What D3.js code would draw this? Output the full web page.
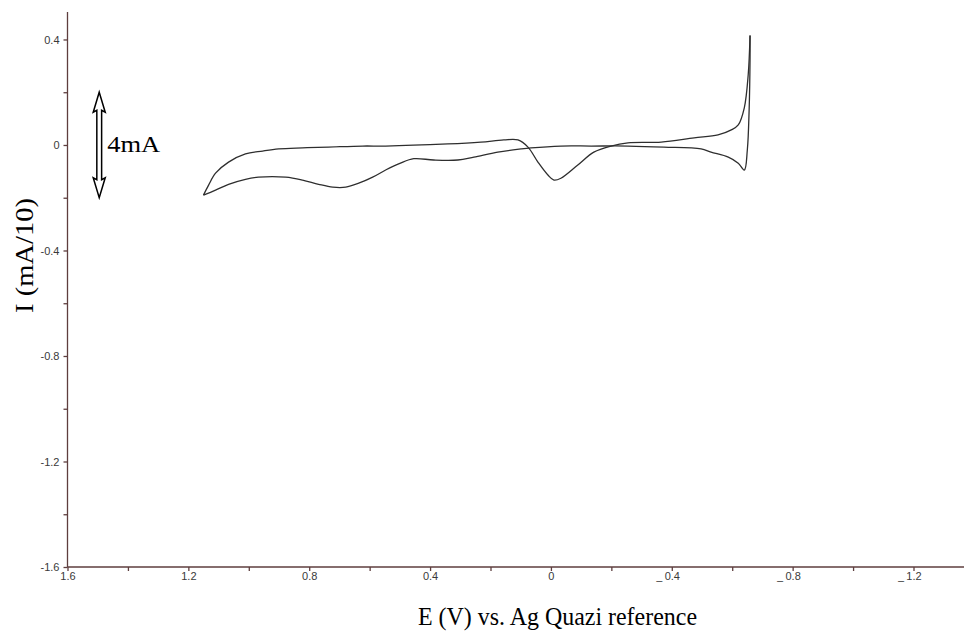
<!DOCTYPE html>
<html>
<head>
<meta charset="utf-8">
<script src="https://cdn.jsdelivr.net/npm/d3@7"></script>
<style>
  html, body { margin: 0; padding: 0; background: #fff; }
  svg { display: block; }
</style>
</head>
<body>
<svg id="chart" width="964" height="632"></svg>
<script>
// Cyclic voltammogram: potential E (V) and current I (mA/10)
// Forward (upper) branch, from the positive turning point to the negative one
const upperE = [1.150, 1.133, 1.110, 1.067, 1.011, 0.954, 0.901, 0.822, 0.736, 0.623, 0.547,
                0.341, 0.232, 0.156, 0.109, 0.076, 0.043, 0.010, -0.010, -0.033, -0.089, -0.142,
                -0.199, -0.255, -0.365, -0.474, -0.553, -0.597, -0.620, -0.640, -0.653, -0.659];
const upperI = [-0.190, -0.152, -0.107, -0.065, -0.034, -0.023, -0.015, -0.011, -0.008, -0.004, -0.004,
                0.004, 0.011, 0.019, 0.019, -0.008, -0.065, -0.114, -0.133, -0.126, -0.076, -0.027,
                -0.004, 0.008, 0.011, 0.027, 0.038, 0.057, 0.076, 0.141, 0.267, 0.415];
// Reverse (lower) branch, back from the negative turning point
const lowerE = [-0.659, -0.659, -0.656, -0.650, -0.640, -0.620, -0.587, -0.530, -0.497, -0.374,
                -0.255, -0.133, -0.033, 0.066, 0.099, 0.176, 0.255, 0.308, 0.388, 0.454, 0.500,
                0.547, 0.590, 0.636, 0.679, 0.722, 0.769, 0.822, 0.878, 0.968, 1.011, 1.067, 1.110, 1.150];
const lowerI = [0.415, 0.324, 0.133, -0.019, -0.095, -0.069, -0.046, -0.027, -0.015, -0.008,
                -0.004, -0.004, -0.004, -0.011, -0.015, -0.027, -0.046, -0.057, -0.057, -0.052, -0.070,
                -0.095, -0.122, -0.145, -0.160, -0.160, -0.149, -0.133, -0.122, -0.122, -0.130, -0.149, -0.171, -0.190];

// Axis ticks
const xMajorTicks = [1.6, 1.2, 0.8, 0.4, 0, -0.4, -0.8, -1.2];
const xMinorTicks = [1.4, 1.0, 0.6, 0.2, -0.2, -0.6, -1.0, -1.4];
const yMajorTicks = [0.4, 0, -0.4, -0.8, -1.2, -1.6];
const yMinorTicks = [0.2, -0.2, -0.6, -1.0, -1.4];

// Scale bar annotation: 4 mA = 0.4 in (mA/10)
const scaleBarE = 1.495;
const scaleBarSpan = [0.2, -0.2];
const scaleBarLabel = "4mA";

const xTitle = "E (V) vs. Ag Quazi reference";
const yTitle = "I (mA/10)";

const svg = d3.select("#chart");
const W = 964;

const x = d3.scaleLinear().domain([1.6, -1.2]).range([67.5, 913.5]);
const y = d3.scaleLinear().domain([-1.6, 0.5]).range([567, 13.1]);

const axisColor = "#5e3e3e";
const labelColor = "#3a3a3a";
const tickFont = "'Liberation Sans', Arial, sans-serif";
const serif = "'Liberation Serif', 'Times New Roman', serif";
const tickSize = 11;

// ---- Y axis
const yAxisG = svg.append("g").attr("transform", `translate(${x(1.6)},0)`);
yAxisG.call(d3.axisLeft(y).tickValues(yMajorTicks).tickSize(4).tickSizeOuter(0)
  .tickFormat(d => d === 0 ? "0" : d3.format(".1f")(d).replace("\u2212", "-")));
yAxisG.append("g").call(d3.axisLeft(y).tickValues(yMinorTicks).tickSize(4).tickFormat(""))
  .select(".domain").remove();
yAxisG.selectAll(".domain").attr("d", `M0,${y(-1.6)}V${y(0.5) - 1}`);
yAxisG.selectAll("line, .domain").attr("stroke", axisColor).attr("stroke-width", 1.3);
yAxisG.selectAll("text").attr("fill", labelColor).attr("font-family", tickFont)
  .attr("font-size", tickSize).attr("x", -8);

// ---- X axis
const xAxisG = svg.append("g").attr("transform", `translate(0,${y(-1.6)})`);
xAxisG.call(d3.axisBottom(x).tickValues(xMajorTicks).tickSize(4).tickSizeOuter(0)
  .tickFormat(d => d === 0 ? "0" : d3.format(".1f")(Math.abs(d))));
xAxisG.append("g").call(d3.axisBottom(x).tickValues(xMinorTicks).tickSize(4).tickFormat(""))
  .select(".domain").remove();
xAxisG.selectAll(".domain").attr("d", `M${x(1.6)},0H${W}`);
xAxisG.selectAll("line, .domain").attr("stroke", axisColor).attr("stroke-width", 1.3);
xAxisG.selectAll(".tick text").attr("fill", labelColor).attr("font-family", tickFont)
  .attr("font-size", tickSize).attr("y", 5);
// negative potentials carry a low dash in front of the number
xAxisG.selectAll(":scope > .tick").filter(d => d < 0).append("text")
  .attr("x", -10).attr("y", 9).attr("dy", "0.71em")
  .attr("text-anchor", "end").attr("fill", labelColor)
  .attr("font-family", tickFont).attr("font-size", tickSize).text("\u2013");

// ---- Voltammogram
const line = d3.line().x(d => x(d[0])).y(d => y(d[1])).curve(d3.curveCatmullRom.alpha(0.5));
const upper = upperE.map((e, i) => [e, upperI[i]]);
const lower = lowerE.map((e, i) => [e, lowerI[i]]);
svg.append("path").datum(upper).attr("d", line)
  .attr("fill", "none").attr("stroke", "#2e2e2e").attr("stroke-width", 1.3);
svg.append("path").datum(lower).attr("d", line)
  .attr("fill", "none").attr("stroke", "#2e2e2e").attr("stroke-width", 1.3);

// ---- Scale bar (hollow double-headed arrow)
const ax = x(scaleBarE);
const yTop = y(scaleBarSpan[0]);
const yBot = y(scaleBarSpan[1]);
const hw = 6, sw = 2.4, hl = 20;
const arrowPts = [
  [ax, yTop], [ax + hw, yTop + hl], [ax + sw, yTop + hl - 2], [ax + sw, yBot - hl + 2],
  [ax + hw, yBot - hl], [ax, yBot], [ax - hw, yBot - hl], [ax - sw, yBot - hl + 2],
  [ax - sw, yTop + hl - 2], [ax - hw, yTop + hl]
];
svg.append("path").attr("d", d3.line()(arrowPts) + "Z")
  .attr("fill", "#fff").attr("stroke", "#000").attr("stroke-width", 1.5)
  .attr("stroke-linejoin", "miter");
svg.append("text").attr("x", ax + 8).attr("y", y(0) + 7)
  .attr("font-family", serif).attr("font-size", 23).attr("fill", "#000")
  .attr("textLength", 53).attr("lengthAdjust", "spacingAndGlyphs")
  .text(scaleBarLabel);

// ---- Axis titles
svg.append("text").attr("x", 418).attr("y", 625)
  .attr("font-family", serif).attr("font-size", 25).attr("fill", "#000")
  .attr("textLength", 279).attr("lengthAdjust", "spacingAndGlyphs")
  .text(xTitle);
svg.append("text").attr("transform", "translate(33,313) rotate(-90)")
  .attr("font-family", serif).attr("font-size", 25).attr("fill", "#000")
  .attr("textLength", 115).attr("lengthAdjust", "spacingAndGlyphs")
  .text(yTitle);
</script>
</body>
</html>
